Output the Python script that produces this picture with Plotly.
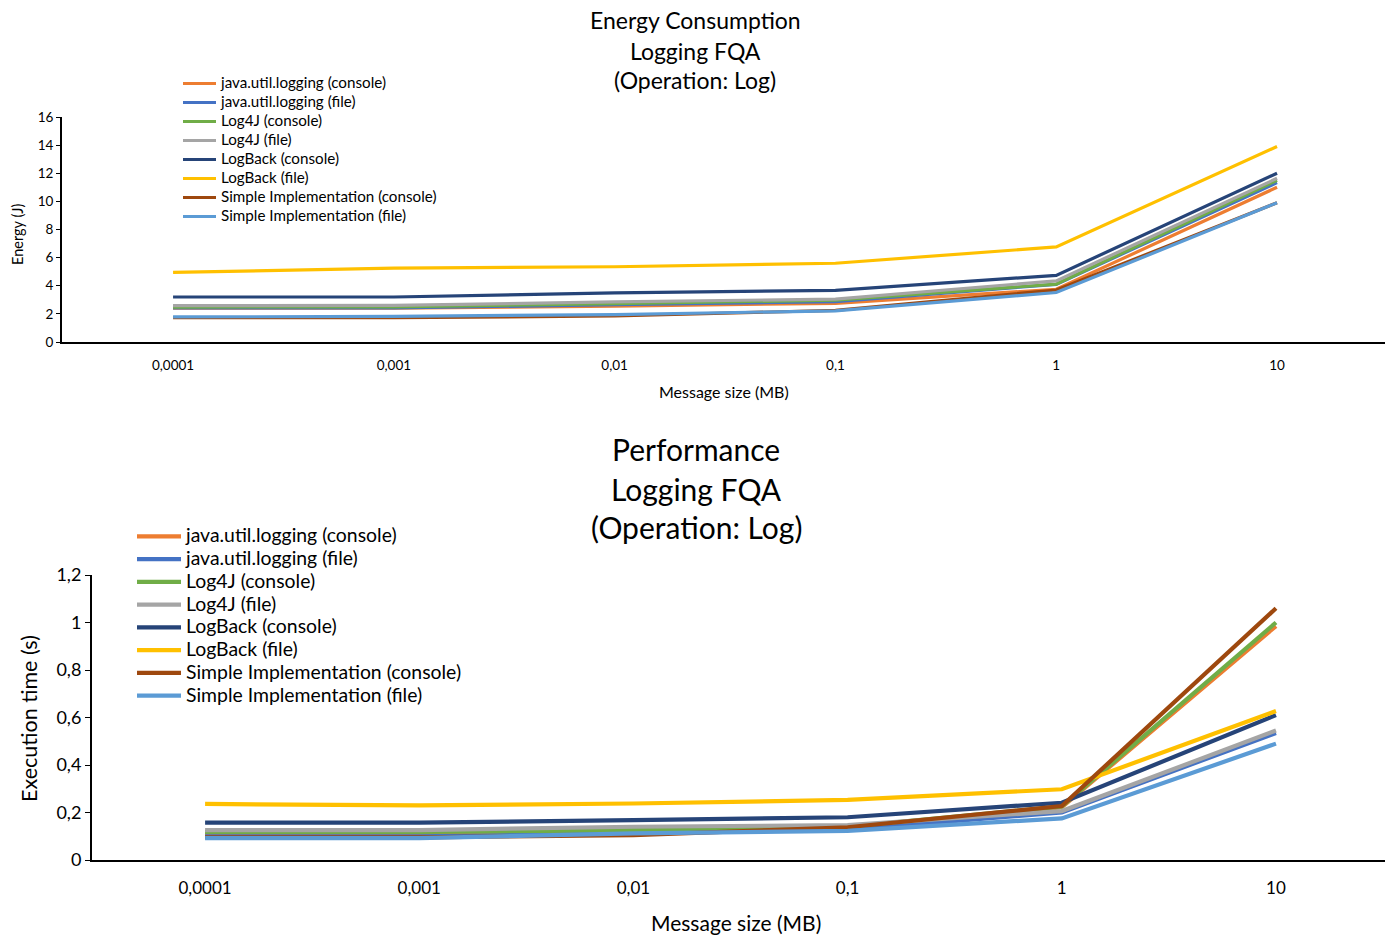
import plotly.graph_objects as go

W, H = 1392, 935

sizes = ["0,0001", "0,001", "0,01", "0,1", "1", "10"]

series_names = [
    "java.util.logging (console)",
    "java.util.logging (file)",
    "Log4J (console)",
    "Log4J (file)",
    "LogBack (console)",
    "LogBack (file)",
    "Simple Implementation (console)",
    "Simple Implementation (file)",
]
colors = ["#ED7D31", "#4472C4", "#70AD47", "#A5A5A5", "#264478", "#FFC000", "#9E480E", "#5B9BD5"]

# Energy (J)
energy_jul_console = [2.40, 2.40, 2.55, 2.75, 3.75, 11.0]
energy_jul_file = [2.42, 2.42, 2.65, 2.87, 4.10, 11.33]
energy_log4j_console = [2.48, 2.50, 2.72, 2.98, 4.12, 11.50]
energy_log4j_file = [2.58, 2.60, 2.85, 3.05, 4.35, 11.64]
energy_logback_console = [3.20, 3.20, 3.50, 3.67, 4.74, 12.0]
energy_logback_file = [4.95, 5.25, 5.35, 5.60, 6.76, 13.9]
energy_simple_console = [1.73, 1.73, 1.85, 2.25, 3.70, 9.90]
energy_simple_file = [1.78, 1.82, 1.95, 2.22, 3.52, 9.90]

# Execution time (s)
time_jul_console = [0.112, 0.112, 0.118, 0.130, 0.222, 0.985]
time_jul_file = [0.100, 0.100, 0.112, 0.128, 0.200, 0.535]
time_log4j_console = [0.118, 0.118, 0.126, 0.140, 0.225, 1.000]
time_log4j_file = [0.126, 0.126, 0.140, 0.147, 0.206, 0.545]
time_logback_console = [0.157, 0.157, 0.168, 0.180, 0.241, 0.610]
time_logback_file = [0.236, 0.230, 0.238, 0.253, 0.298, 0.627]
time_simple_console = [0.095, 0.095, 0.105, 0.138, 0.227, 1.060]
time_simple_file = [0.092, 0.092, 0.112, 0.123, 0.175, 0.490]

energy = [energy_jul_console, energy_jul_file, energy_log4j_console, energy_log4j_file,
          energy_logback_console, energy_logback_file, energy_simple_console, energy_simple_file]
times = [time_jul_console, time_jul_file, time_log4j_console, time_log4j_file,
         time_logback_console, time_logback_file, time_simple_console, time_simple_file]

FONT = "Lato"

def leg_label(name, size):
    return '<span style="font-size:%gpx">%s</span>' % (size, name)

fig = go.Figure()
for name, c, vals in zip(series_names, colors, energy):
    fig.add_trace(go.Scatter(x=sizes, y=vals, mode="lines", name=leg_label(name, 15.2),
                             line=dict(color=c, width=3.2), xaxis="x", yaxis="y",
                             legend="legend"))
for name, c, vals in zip(series_names, colors, times):
    fig.add_trace(go.Scatter(x=sizes, y=vals, mode="lines", name=leg_label(name, 19.4),
                             line=dict(color=c, width=4.2), xaxis="x2", yaxis="y2",
                             legend="legend2"))

def px_x(p):
    return p / W

def px_y(p):
    return 1 - p / H

axis_common = dict(showgrid=False, zeroline=False, showline=True, linecolor="black",
                   linewidth=2, tickcolor="black", color="black", automargin=False)

fig.update_layout(
    width=W, height=H,
    margin=dict(l=0, r=0, t=0, b=0, autoexpand=False),
    paper_bgcolor="white", plot_bgcolor="white",
    separators=", ",
    font=dict(family=FONT, color="black"),
    xaxis=dict(**axis_common, type="category", domain=[px_x(62), px_x(1385)],
               range=[-0.503, 5.489], ticks="", anchor="y",
               tickfont=dict(size=13.5), ticklabelstandoff=10),
    yaxis=dict(**axis_common, domain=[px_y(342), px_y(117)], range=[0, 16],
               dtick=2, ticks="outside", ticklen=4, anchor="x",
               tickfont=dict(size=13.5)),
    xaxis2=dict(**axis_common, type="category", domain=[px_x(92), px_x(1385)],
                range=[-0.528, 5.509], ticks="", anchor="y2",
                tickfont=dict(size=17), ticklabelstandoff=12),
    yaxis2=dict(**axis_common, domain=[px_y(860), px_y(575)], range=[0, 1.2],
                dtick=0.2, ticks="outside", ticklen=5, anchor="x2",
                tickfont=dict(size=18)),
    legend=dict(x=px_x(178), y=px_y(69), xanchor="left", yanchor="top",
                bgcolor="rgba(0,0,0,0)", font=dict(size=12, family=FONT),
                itemwidth=33, tracegroupgap=0),
    legend2=dict(x=px_x(132), y=px_y(520), xanchor="left", yanchor="top",
                 bgcolor="rgba(0,0,0,0)", font=dict(size=15.2, family=FONT),
                 itemwidth=44, tracegroupgap=0),
)

annotations = []
for txt, y in [("Energy Consumption", 20), ("Logging FQA", 51), ("(Operation: Log)", 80)]:
    annotations.append(dict(text=txt, x=px_x(695), y=px_y(y), xref="paper", yref="paper",
                            showarrow=False, xanchor="center", yanchor="middle",
                            font=dict(size=23, family=FONT)))
for txt, y in [("Performance", 449), ("Logging FQA", 489), ("(Operation: Log)", 527)]:
    annotations.append(dict(text=txt, x=px_x(696), y=px_y(y), xref="paper", yref="paper",
                            showarrow=False, xanchor="center", yanchor="middle",
                            font=dict(size=30, family=FONT)))
annotations.append(dict(text="Message size (MB)", x=px_x(724), y=px_y(391), xref="paper", yref="paper",
                        showarrow=False, xanchor="center", yanchor="middle", font=dict(size=16, family=FONT)))
annotations.append(dict(text="Message size (MB)", x=px_x(736), y=px_y(922), xref="paper", yref="paper",
                        showarrow=False, xanchor="center", yanchor="middle", font=dict(size=21, family=FONT)))
annotations.append(dict(text="Energy (J)", x=px_x(17), y=px_y(235), xref="paper", yref="paper",
                        showarrow=False, xanchor="center", yanchor="middle", textangle=-90,
                        font=dict(size=14.5, family=FONT)))
annotations.append(dict(text="Execution time (s)", x=px_x(29), y=px_y(719), xref="paper", yref="paper",
                        showarrow=False, xanchor="center", yanchor="middle", textangle=-90,
                        font=dict(size=21.5, family=FONT)))
fig.update_layout(annotations=annotations)

fig.write_html("out.html")
